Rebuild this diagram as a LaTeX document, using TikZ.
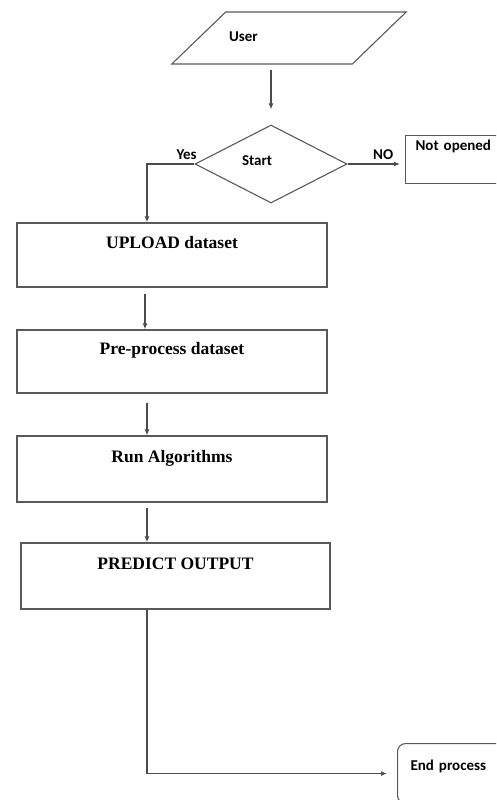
\documentclass[tikz,border=0pt]{standalone}
\usepackage{fontspec}
\setmainfont{Liberation Serif}
\newfontfamily\calfont{Carlito}
\usetikzlibrary{positioning,shapes,arrows.meta,calc}
\tikzset{
    flowline/.style={draw=black!70, line width=1.2pt},
    flowarrow/.style={flowline, -{Latex[length=6pt,width=5pt]}},
    calibri/.style={font=\fontsize{15}{18}\selectfont\calfont\bfseries},
    procbox/.style={draw=black!65, line width=1.3pt, minimum width=310pt, inner sep=0pt,
        text height=12pt, text depth=26pt, font=\fontsize{17.5}{20}\selectfont\bfseries},
    sidebox/.style={calibri, draw=black!65, line width=1.1pt, inner xsep=10pt, inner ysep=0pt,
        text width=100pt, align=left, text height=11pt},
    edgetext/.style={calibri, inner sep=1pt, yshift=3pt}
}
\begin{document}
\begin{tikzpicture}[x=1pt, y=-1pt]
    \useasboundingbox (0,0) rectangle (496,800);
    \clip (0,0) rectangle (496,800);
    \node[trapezium, trapezium left angle=44, trapezium right angle=136, trapezium stretches body=true,
        draw=black!65, line width=1.1pt, minimum width=218pt, minimum height=52pt, inner ysep=5pt,
        text width=120pt, align=left, text height=25pt, text depth=17pt, calibri] (user) at (289,38) {User};
    \node[diamond, draw=black!65, line width=1.1pt, minimum width=152pt, minimum height=78pt, inner sep=0pt,
        text width=58pt, align=left, text height=11pt, text depth=9pt, calibri] (start) at (271,164) {Start};
    \node[sidebox, minimum height=48pt, text depth=29pt, anchor=north west] (notopened) at (405,135) {Not opened};
    \node[procbox, minimum height=64pt] (upload) at (172,255) {UPLOAD dataset};
    \node[procbox, minimum height=63pt] (preproc) at (172,361.5) {Pre-process dataset};
    \node[procbox, minimum height=66pt] (runalg) at (172,469) {Run Algorithms};
    \node[procbox, minimum height=66pt, minimum width=309pt] (predict) at (175.5,576) {PREDICT OUTPUT};
    \node[sidebox, rounded corners=8pt, inner xsep=13pt, minimum height=60pt, text depth=17pt,
        anchor=north west] (endproc) at (397,743) {End process};

    \draw[flowarrow, shorten <=5pt, shorten >=15pt] (user.south -| start.north) -- (start.north);
    \draw[flowarrow, shorten >=5pt] (start.east) -- node[edgetext, pos=0.62, above] (notext) {NO}
        (start.east -| notopened.west);
    \draw[flowarrow] (start.west) -| node[edgetext, pos=0.083, above] (yestext) {Yes}
        ([xshift=-25pt]upload.north);
    \draw[flowarrow] ([xshift=-27pt,yshift=-6pt]upload.south) -- ([xshift=-27pt]preproc.north);
    \draw[flowarrow] ([xshift=-25pt,yshift=-9pt]preproc.south) -- ([xshift=-25pt]runalg.north);
    \draw[flowarrow] ([xshift=-25pt,yshift=-5pt]runalg.south) -- ([xshift=-25pt]runalg.south |- predict.north);
    \draw[flowarrow, shorten >=10pt] ([xshift=-28.5pt]predict.south) |- (endproc.west);
\end{tikzpicture}
\end{document}
